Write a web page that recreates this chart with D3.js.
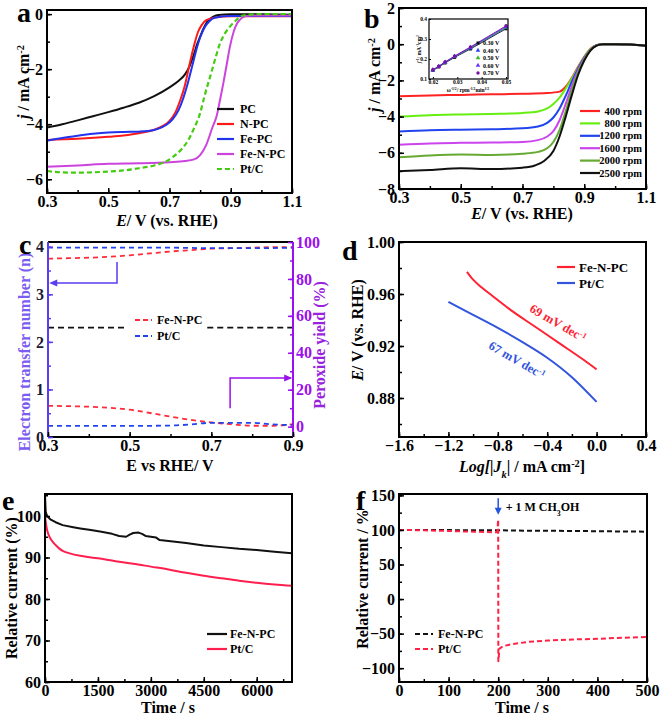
<!DOCTYPE html>
<html><head><meta charset="utf-8">
<script src="https://cdn.jsdelivr.net/npm/d3@7"></script>
<style>
body{margin:0;background:#fff;}
svg text{font-family:'Liberation Serif','Times New Roman',serif;font-weight:bold;}
</style></head><body>
<svg id="chart" width="661" height="715"></svg>
<script>
// ---------------- DATA ----------------
// Panel a: LSV curves (E / V, j / mA cm-2)
const aNames = ["PC","N-PC","Fe-PC","Fe-N-PC","Pt/C"];
const aPC = [[0.3,-4.12],[0.35,-4.0],[0.4,-3.86],[0.45,-3.71],[0.5,-3.56],[0.55,-3.4],[0.6,-3.22],[0.65,-2.98],[0.7,-2.66],[0.73,-2.42],[0.75,-2.2],[0.767,-1.85],[0.78,-1.45],[0.79,-1.1],[0.8,-0.82],[0.81,-0.55],[0.82,-0.33],[0.832,-0.18],[0.845,-0.08],[0.86,-0.03],[0.9,0],[1.0,0],[1.1,-0.02]];
const aNPC = [[0.3,-4.57],[0.4,-4.53],[0.5,-4.46],[0.55,-4.41],[0.6,-4.33],[0.65,-4.2],[0.68,-4.05],[0.7,-3.88],[0.72,-3.55],[0.735,-3.13],[0.75,-2.6],[0.767,-1.75],[0.78,-1.15],[0.793,-0.65],[0.805,-0.4],[0.82,-0.22],[0.85,-0.12],[0.9,-0.08],[1.0,-0.08],[1.1,-0.08]];
const aFePC = [[0.3,-4.6],[0.35,-4.5],[0.4,-4.42],[0.45,-4.35],[0.5,-4.3],[0.55,-4.28],[0.6,-4.27],[0.63,-4.25],[0.66,-4.18],[0.69,-4.02],[0.71,-3.82],[0.73,-3.48],[0.745,-3.05],[0.76,-2.5],[0.775,-1.85],[0.79,-1.2],[0.8,-0.85],[0.815,-0.48],[0.83,-0.26],[0.85,-0.12],[0.9,-0.07],[1.1,-0.07]];
const aFeNPC = [[0.3,-5.55],[0.4,-5.5],[0.5,-5.44],[0.6,-5.42],[0.7,-5.38],[0.75,-5.34],[0.78,-5.28],[0.8,-5.12],[0.82,-4.75],[0.84,-4.12],[0.854,-3.7],[0.865,-3.12],[0.876,-2.5],[0.887,-1.82],[0.897,-1.2],[0.91,-0.62],[0.92,-0.35],[0.93,-0.2],[0.95,-0.07],[0.97,-0.05],[1.1,-0.05]];
const aPtC = [[0.3,-5.7],[0.35,-5.75],[0.4,-5.76],[0.5,-5.72],[0.55,-5.68],[0.6,-5.6],[0.65,-5.5],[0.68,-5.4],[0.71,-5.2],[0.74,-4.9],[0.76,-4.6],[0.78,-4.15],[0.8,-3.6],[0.815,-2.95],[0.832,-2.3],[0.85,-1.6],[0.865,-1.06],[0.88,-0.72],[0.897,-0.46],[0.915,-0.25],[0.93,-0.1],[0.95,-0.03],[1.0,0],[1.1,0]];

// Panel b: LSV at rotation rates
const bNames = ["400 rpm","800 rpm","1200 rpm","1600 rpm","2000 rpm","2500 rpm"];
const b400 = [[0.3,-2.88],[0.4,-2.83],[0.5,-2.8],[0.6,-2.77],[0.7,-2.74],[0.78,-2.7],[0.82,-2.62],[0.84,-2.35],[0.86,-1.85],[0.88,-1.25],[0.9,-0.7],[0.92,-0.25],[0.94,-0.05],[0.96,0],[1.0,0],[1.05,-0.02],[1.1,-0.08]];
const b800 = [[0.3,-4.0],[0.4,-3.92],[0.5,-3.88],[0.6,-3.85],[0.7,-3.8],[0.75,-3.72],[0.78,-3.55],[0.8,-3.3],[0.82,-2.95],[0.84,-2.45],[0.86,-1.9],[0.88,-1.3],[0.9,-0.72],[0.92,-0.27],[0.94,-0.05],[0.96,0],[1.0,0],[1.05,-0.02],[1.1,-0.08]];
const b1200 = [[0.3,-4.82],[0.4,-4.75],[0.5,-4.72],[0.6,-4.7],[0.7,-4.65],[0.75,-4.55],[0.78,-4.35],[0.8,-4.05],[0.82,-3.55],[0.84,-2.85],[0.86,-2.05],[0.88,-1.35],[0.9,-0.75],[0.92,-0.3],[0.94,-0.06],[0.96,0],[1.0,0],[1.05,-0.02],[1.1,-0.08]];
const b1600 = [[0.3,-5.55],[0.4,-5.48],[0.5,-5.45],[0.6,-5.43],[0.7,-5.4],[0.75,-5.3],[0.78,-5.1],[0.8,-4.8],[0.82,-4.2],[0.84,-3.3],[0.86,-2.3],[0.88,-1.45],[0.9,-0.8],[0.92,-0.3],[0.94,-0.06],[0.96,0],[1.0,0],[1.05,-0.02],[1.1,-0.08]];
const b2000 = [[0.3,-6.25],[0.4,-6.15],[0.5,-6.1],[0.6,-6.12],[0.7,-6.05],[0.75,-5.95],[0.78,-5.75],[0.8,-5.4],[0.82,-4.75],[0.84,-3.7],[0.86,-2.55],[0.88,-1.55],[0.9,-0.85],[0.92,-0.32],[0.94,-0.07],[0.96,0],[1.0,0],[1.05,-0.02],[1.1,-0.08]];
const b2500 = [[0.3,-7.02],[0.4,-6.95],[0.5,-6.85],[0.6,-6.9],[0.7,-6.82],[0.74,-6.7],[0.77,-6.45],[0.8,-5.9],[0.82,-5.1],[0.84,-4.0],[0.86,-2.8],[0.88,-1.7],[0.9,-0.9],[0.92,-0.35],[0.94,-0.08],[0.96,0],[1.0,0],[1.05,-0.02],[1.1,-0.08]];

// Panel b inset: K-L plots
const klOmega = [0.02,0.0224,0.025,0.0289,0.0354,0.05];
const klNames = ["0.30 V","0.40 V","0.50 V","0.60 V","0.70 V"];
const kl030 = [0.143,0.160,0.180,0.208,0.250,0.351];
const kl040 = [0.144,0.162,0.182,0.211,0.254,0.356];
const kl050 = [0.145,0.163,0.183,0.212,0.256,0.359];
const kl060 = [0.145,0.163,0.184,0.213,0.258,0.362];
const kl070 = [0.146,0.164,0.185,0.215,0.260,0.366];

// Panel c: RRDE
const cNames = ["Fe-N-PC","Pt/C"];
const cNFeNPC = [[0.3,3.75],[0.35,3.76],[0.4,3.77],[0.45,3.79],[0.5,3.82],[0.55,3.86],[0.6,3.9],[0.65,3.93],[0.7,3.96],[0.75,3.97],[0.8,3.98],[0.85,3.99],[0.9,3.99]];
const cNPtC = [[0.3,3.98],[0.5,3.98],[0.6,3.98],[0.7,3.97],[0.8,3.97],[0.9,3.98]];
const cHFeNPC = [[0.3,11.3],[0.35,11.1],[0.4,10.8],[0.45,10.2],[0.5,9.2],[0.55,7.4],[0.6,5.4],[0.65,3.7],[0.7,2.3],[0.75,1.3],[0.8,0.5],[0.85,0.5],[0.9,1.3]];
const cHPtC = [[0.3,0.4],[0.5,0.4],[0.6,0.6],[0.65,1.2],[0.7,2.1],[0.8,2.1],[0.85,1.2],[0.9,0.9]];
const cRefA = [[0.3,2.3],[0.49,2.3]];
const cRefB = [[0.69,2.3],[0.9,2.3]];

// Panel d: Tafel
const dNames = ["Fe-N-PC","Pt/C"];
const dFeNPC = [[-1.05,0.977],[-1.0,0.971],[-0.93,0.965],[-0.85,0.959],[-0.7,0.948],[-0.5,0.935],[-0.3,0.922],[-0.1,0.909],[0,0.902]];
const dPtC = [[-1.2,0.954],[-1.0,0.944],[-0.8,0.934],[-0.6,0.923],[-0.4,0.911],[-0.2,0.896],[0,0.877]];
const dLabels = ["69 mV dec","67 mV dec"];

// Panel e: chronoamperometry
const eNames = ["Fe-N-PC","Pt/C"];
const eFeNPC = [[0,105],[20,101],[60,100],[150,99.2],[300,98.5],[500,97.8],[800,97.3],[1000,97],[1300,96.6],[1600,96.2],[1900,95.7],[2100,95.2],[2300,95],[2400,95.5],[2500,95.9],[2650,96],[2750,95.7],[2850,95.2],[3000,95],[3150,94.8],[3250,94.2],[3500,94],[4000,93.5],[4500,92.9],[5000,92.5],[5500,92.1],[6000,91.8],[6500,91.4],[7000,91.0]];
const ePtC = [[0,100],[50,97],[100,95.5],[200,94],[300,93],[400,92.2],[500,91.6],[700,91],[1000,90.4],[1500,89.8],[2000,89.1],[2500,88.5],[3000,87.8],[3500,87.1],[4000,86.3],[4500,85.6],[5000,85],[5500,84.4],[6000,83.9],[6500,83.5],[7000,83.2]];

// Panel f: methanol tolerance
const fNames = ["Fe-N-PC","Pt/C"];
const fFeNPC = [[0,100],[50,100],[100,99.8],[150,99.5],[200,99.5],[250,99],[300,98.8],[350,98.5],[400,98.2],[450,97.8],[500,97.5]];
const fPtC = [[0,100],[50,99.5],[100,98.5],[150,97.5],[195,96.5],[198,97],[200,115],[200.3,-90],[201,-88],[202,-72],[210,-68],[230,-65],[260,-62],[300,-60],[350,-58.5],[400,-57.5],[450,-56],[500,-55]];

// ---------------- DRAWING ----------------
const svg = d3.select("#chart");
const FS = 16, TS = 16;

function frame(x, y) {
  svg.append("rect").attr("x", x.range()[0]).attr("y", y.range()[1])
    .attr("width", x.range()[1]-x.range()[0]).attr("height", y.range()[0]-y.range()[1])
    .attr("fill","none").attr("stroke","#000").attr("stroke-width",2);
}
function axis(gen, pos, major, minor, fmt, color, labelColor, pad) {
  const g1 = svg.append("g").attr("transform", pos);
  g1.call(gen.tickValues(minor).tickSize(-3).tickFormat(""));
  const g2 = svg.append("g").attr("transform", pos);
  g2.call(gen.tickValues(major).tickSize(-5).tickPadding(pad==null?4:pad).tickFormat(fmt));
  [g1,g2].forEach(g => {
    g.select(".domain").remove();
    g.selectAll("line").attr("stroke", color||"#000").attr("stroke-width",1.5);
    g.selectAll("text").attr("font-size",FS).attr("fill",labelColor||"#000")
      .attr("font-family","'Liberation Serif',serif").attr("font-weight","bold");
  });
  return g2;
}
function xAxis(x, y, major, minor, fmt) {
  axis(d3.axisBottom(x), `translate(0,${y.range()[0]})`, major, minor, fmt, null, null, 3);
}
function yAxis(x, y, major, minor, fmt, color, labelColor) {
  return axis(d3.axisLeft(y), `translate(${x.range()[0]},0)`, major, minor, fmt, color, labelColor, 4);
}
function range(a,b,s){const r=[];for(let v=a;v<=b+s/1e3;v+=s)r.push(+v.toFixed(6));return r;}
function line(x,y,data,color,w,dash,curve){
  svg.append("path").datum(data)
    .attr("d", d3.line().x(d=>x(d[0])).y(d=>y(d[1])).curve(curve||d3.curveMonotoneX))
    .attr("fill","none").attr("stroke",color).attr("stroke-width",w||2)
    .attr("stroke-dasharray",dash||null).attr("stroke-linejoin","round");
}
function panelLabel(t,x,y){ svg.append("text").attr("x",x).attr("y",y).attr("font-size",28).text(t); }
function yTitle(cx,cy,parts,color,fs,rot){
  const t = svg.append("text").attr("transform",`translate(${cx},${cy}) rotate(${rot||-90})`)
    .attr("text-anchor","middle").attr("dy","0.35em").attr("font-size",fs||TS).attr("fill",color||"#000");
  addParts(t,parts);
}
function xTitle(cx,by,parts,fs){
  const t = svg.append("text").attr("x",cx).attr("y",by).attr("text-anchor","middle").attr("font-size",fs||TS);
  addParts(t,parts);
}
function addParts(t,parts){
  parts.forEach(p=>{
    const s = t.append("tspan").text(p.t);
    if(p.i) s.attr("font-style","italic");
    if(p.sup) s.attr("baseline-shift","super").attr("font-size","65%");
    if(p.sub) s.attr("baseline-shift","sub").attr("font-size","65%");
  });
}
function legend(items, x0, y0, step, len, tx, fs, anchor) {
  items.forEach((it,i)=>{
    const y = y0 + i*step;
    svg.append("line").attr("x1",x0).attr("x2",x0+len).attr("y1",y).attr("y2",y)
      .attr("stroke",it.c).attr("stroke-width",2.2).attr("stroke-dasharray",it.dash||null);
    svg.append("text").attr("x",tx).attr("y",y).attr("dy","0.35em").attr("font-size",fs)
      .attr("text-anchor",anchor||"start").text(it.n);
  });
}
const f1 = d3.format(".1f"), f0 = d3.format("d"), f2 = d3.format(".2f");

// ----- Panel a -----
{
  const x = d3.scaleLinear().domain([0.3,1.1]).range([47,292]);
  const y = d3.scaleLinear().domain([-6.5,0.15]).range([193,10]);
  const cols = ["#111","#ff1a1a","#2233ee","#cc44dd","#44cc11"];
  [aPC,aNPC,aFePC,aFeNPC].forEach((d,i)=>line(x,y,d,cols[i],2));
  line(x,y,aPtC,cols[4],2.2,"5,3");
  frame(x,y);
  xAxis(x,y,[0.3,0.5,0.7,0.9,1.1],range(0.3,1.1,0.1),f1);
  yAxis(x,y,[0,-2,-4,-6],range(-6,0,1),f0);
  legend(aNames.map((n,i)=>({n,c:cols[i],dash:i==4?"5,3":null})),217,109,15,17,240,12);
  yTitle(23,82,[{t:"j",i:1},{t:" / mA cm"},{t:"-2",sup:1}]);
  xTitle(167,226,[{t:"E",i:1},{t:"/ V (vs. RHE)"}]);
  panelLabel("a",17,22);
}
// ----- Panel b -----
{
  const x = d3.scaleLinear().domain([0.3,1.1]).range([399,646]);
  const y = d3.scaleLinear().domain([-8,2]).range([189,8]);
  const cols = ["#ff2222","#66ee11","#2244ee","#cc44ee","#66aa33","#111"];
  [b400,b800,b1200,b1600,b2000,b2500].forEach((d,i)=>line(x,y,d,cols[i],2));
  frame(x,y);
  xAxis(x,y,[0.3,0.5,0.7,0.9,1.1],range(0.3,1.1,0.1),f1);
  yAxis(x,y,[2,0,-2,-4,-6,-8],range(-8,2,1),f0);
  legend(bNames.map((n,i)=>({n,c:cols[i]})),580,111,12.4,20,642,10.5,"end");
  yTitle(374,75,[{t:"j",i:1},{t:" / mA cm"},{t:"-2",sup:1}]);
  xTitle(522,219,[{t:"E",i:1},{t:"/ V (vs. RHE)"}]);
  panelLabel("b",364,28);

  // inset
  const xi = d3.scaleLinear().domain([0.0184,0.0508]).range([429,508]);
  const yi = d3.scaleLinear().domain([0.1,0.4]).range([79,19]);
  const icol = ["#111","#2244ee","#33bb22","#6633ff","#7711aa"];
  const sym = [d3.symbolSquare,d3.symbolTriangle,d3.symbolTriangle,d3.symbolTriangle,d3.symbolCircle];
  [kl030,kl040,kl050,kl060,kl070].forEach((arr,i)=>{
    const pts = arr.map((v,j)=>[klOmega[j],v]);
    svg.append("path").datum(pts).attr("d",d3.line().x(d=>xi(d[0])).y(d=>yi(d[1])))
      .attr("fill","none").attr("stroke",icol[i]).attr("stroke-width",0.9);
    svg.selectAll(null).data(pts).enter().append("path")
      .attr("transform",d=>`translate(${xi(d[0])},${yi(d[1])})`)
      .attr("d",d3.symbol().type(sym[i]).size(9)).attr("fill",icol[i]);
  });
  svg.append("rect").attr("x",429).attr("y",19).attr("width",79).attr("height",60)
    .attr("fill","none").attr("stroke","#000").attr("stroke-width",1.2);
  const gx = svg.append("g").attr("transform","translate(0,79)")
    .call(d3.axisBottom(xi).tickValues([0.02,0.03,0.04,0.05]).tickSize(-2).tickPadding(1).tickFormat(f2));
  const gy = svg.append("g").attr("transform","translate(429,0)")
    .call(d3.axisLeft(yi).tickValues([0.1,0.2,0.3,0.4]).tickSize(-2).tickPadding(2).tickFormat(f1));
  [gx,gy].forEach(g=>{g.select(".domain").remove();g.selectAll("text").attr("font-size",5.5)
    .attr("font-family","'Liberation Serif',serif").attr("font-weight","bold");});
  klNames.forEach((n,i)=>{
    const yy = 43+i*7.5;
    svg.append("path").attr("transform",`translate(478,${yy})`)
      .attr("d",d3.symbol().type(sym[i]).size(9)).attr("fill",icol[i]);
    svg.append("text").attr("x",483).attr("y",yy).attr("dy","0.35em").attr("font-size",6).text(n);
  });
  yTitle(419,49,[{t:"j",i:1},{t:"-1",sup:1},{t:"/ mA"},{t:"-1",sup:1},{t:"cm"},{t:"2",sup:1}],"#000",5.5);
  xTitle(468,92,[{t:"ω"},{t:"-1/2",sup:1},{t:"/ rpm"},{t:"-1/2",sup:1},{t:"min"},{t:"1/2",sup:1}],5.5);
}
// ----- Panel c -----
{
  const x = d3.scaleLinear().domain([0.3,0.9]).range([48,293]);
  const yl = d3.scaleLinear().domain([0,4.1]).range([437,242]);
  const yr = d3.scaleLinear().domain([-5.6,100]).range([437,242]);
  const red="#ff2a3a", blue="#2244ee";
  line(x,yl,cRefA,"#111",1.8,"6,4",d3.curveLinear);
  line(x,yl,cRefB,"#111",1.8,"6,4",d3.curveLinear);
  line(x,yl,cNFeNPC,red,1.8,"5,4");
  line(x,yl,cNPtC,blue,1.8,"5,4");
  line(x,yr,cHFeNPC,red,1.8,"5,4");
  line(x,yr,cHPtC,blue,1.8,"5,4");
  svg.append("line").attr("x1",48).attr("x2",293).attr("y1",242).attr("y2",242).attr("stroke","#000").attr("stroke-width",2);
  svg.append("line").attr("x1",48).attr("x2",293).attr("y1",437).attr("y2",437).attr("stroke","#000").attr("stroke-width",2);
  const lc="#5a3cf0", rc="#9b10ee";
  svg.append("line").attr("x1",48).attr("x2",48).attr("y1",242).attr("y2",437).attr("stroke",lc).attr("stroke-width",2);
  svg.append("line").attr("x1",293).attr("x2",293).attr("y1",242).attr("y2",437).attr("stroke",rc).attr("stroke-width",2);
  xAxis(x,yl,[0.3,0.5,0.7,0.9],range(0.3,0.9,0.1),f1);
  yAxis(x,yl,[0,1,2,3,4],range(0,4,0.5),f0,lc,"#1a1a33");
  axis(d3.axisRight(yr),`translate(293,0)`,[0,20,40,60,80,100],range(0,100,10),f0,rc,rc,3);
  const ap = d3.path();
  ap.moveTo(x(0.469),yl(3.68)); ap.lineTo(x(0.469),yl(3.24)); ap.lineTo(x(0.31),yl(3.24));
  svg.append("path").attr("d",ap.toString()).attr("fill","none").attr("stroke",lc).attr("stroke-width",1.5);
  svg.append("path").attr("d",`M${x(0.303)},${yl(3.24)} l8,-3.5 l0,7 z`).attr("fill",lc);
  const bp = d3.path();
  bp.moveTo(x(0.746),yr(10)); bp.lineTo(x(0.746),yr(26.4)); bp.lineTo(x(0.895),yr(26.4));
  svg.append("path").attr("d",bp.toString()).attr("fill","none").attr("stroke",rc).attr("stroke-width",1.5);
  svg.append("path").attr("d",`M${x(0.898)},${yr(26.4)} l-8,-3.5 l0,7 z`).attr("fill",rc);
  legend(cNames.map((n,i)=>({n,c:i?blue:red,dash:"5,3"})),135,320,16,17,157,12);
  yTitle(24,352,[{t:"Electron transfer number (n)"}],"#7b5cf0");
  yTitle(319,345,[{t:"Peroxide yield (%)"}],"#9922dd");
  xTitle(170,471,[{t:"E vs RHE/ V"}]);
  panelLabel("c",19,254);
}
// ----- Panel d -----
{
  const x = d3.scaleLinear().domain([-1.6,0.4]).range([399,646]);
  const y = d3.scaleLinear().domain([0.85,1.0]).range([437,242]);
  const red="#ff2233", blue="#3355dd";
  line(x,y,dFeNPC,red,2);
  line(x,y,dPtC,blue,2);
  frame(x,y);
  xAxis(x,y,[-1.6,-1.2,-0.8,-0.4,0.0,0.4],range(-1.6,0.4,0.2),f1);
  yAxis(x,y,[0.88,0.92,0.96,1.00],range(0.86,1.0,0.02),f2);
  legend(dNames.map((n,i)=>({n,c:i?blue:red})),557,267,16,18,579,13);
  [[dLabels[0],558,323,red],[dLabels[1],517,360,blue]].forEach(([t,cx,cy,c])=>{
    const tt = svg.append("text").attr("transform",`translate(${cx},${cy}) rotate(30)`)
      .attr("text-anchor","middle").attr("dy","0.35em").attr("font-size",12.5).attr("fill",c);
    tt.append("tspan").text(t);
    tt.append("tspan").attr("baseline-shift","super").attr("font-size","65%").text("-1");
  });
  yTitle(357,330,[{t:"E",i:1},{t:"/ V (vs. RHE)"}]);
  xTitle(522,472,[{t:"Log[|J",i:1},{t:"k",i:1,sub:1},{t:"| / mA cm"},{t:"-2",sup:1},{t:"]"}]);
  panelLabel("d",342,260);
}
// ----- Panel e -----
{
  const x = d3.scaleLinear().domain([0,7000]).range([45,292]);
  const y = d3.scaleLinear().domain([60,105.3]).range([682,494]);
  line(x,y,eFeNPC,"#111",2,null,d3.curveLinear);
  line(x,y,ePtC,"#ff1f4f",2);
  frame(x,y);
  xAxis(x,y,[0,1500,3000,4500,6000],range(0,6750,750),f0);
  yAxis(x,y,[60,70,80,90,100],range(60,105,5),f0);
  legend(eNames.map((n,i)=>({n,c:i?"#ff1f4f":"#111"})),207,634,15,20,230,12);
  yTitle(11,588,[{t:"Relative current (%)"}]);
  xTitle(168,713,[{t:"Time / s"}]);
  panelLabel("e",2,510);
}
// ----- Panel f -----
{
  const x = d3.scaleLinear().domain([0,500]).range([399,647]);
  const y = d3.scaleLinear().domain([-120,152]).range([682,494]);
  line(x,y,fFeNPC,"#111",2,"5,3",d3.curveLinear);
  line(x,y,fPtC,"#ff2244",2,"5,3",d3.curveLinear);
  frame(x,y);
  xAxis(x,y,[0,100,200,300,400,500],range(0,500,50),f0);
  yAxis(x,y,[150,100,50,0,-50,-100],range(-100,150,25),f0);
  legend(fNames.map((n,i)=>({n,c:i?"#ff2244":"#111",dash:"5,3"})),415,634,15,18,438,12);
  svg.append("line").attr("x1",x(200)).attr("x2",x(200)).attr("y1",y(146)).attr("y2",y(126))
    .attr("stroke","#2255dd").attr("stroke-width",1.5);
  svg.append("path").attr("d",`M${x(200)},${y(122)} l-3.5,-7 l7,0 z`).attr("fill","#2255dd");
  const t = svg.append("text").attr("x",x(215)).attr("y",y(128)).attr("font-size",12);
  addParts(t,[{t:"+ 1 M CH"},{t:"3",sub:1},{t:"OH"}]);
  yTitle(362,579,[{t:"Relative current / %"}]);
  xTitle(522,713,[{t:"Time / s"}]);
  panelLabel("f",356,510);
}
</script>
</body></html>
